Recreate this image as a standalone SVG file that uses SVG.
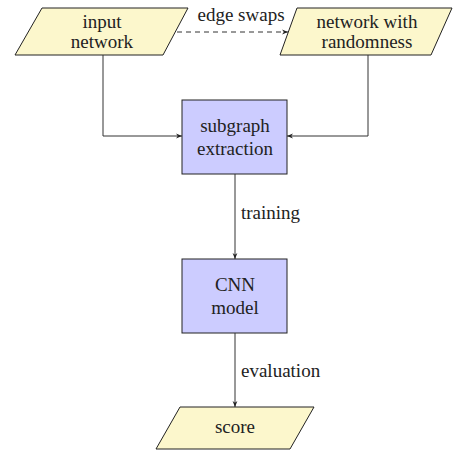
<svg xmlns="http://www.w3.org/2000/svg" width="453" height="452" viewBox="0 0 453 452">
<defs>
<marker id="ah" viewBox="0 0 10 10" refX="10" refY="5" markerWidth="6" markerHeight="6" markerUnits="userSpaceOnUse" orient="auto">
<path d="M0,1 L10,5 L0,9 L3,5 Z" fill="#222"/>
</marker>
<style>
text{font-family:"Liberation Serif","DejaVu Serif",serif;font-size:19px;fill:#222;text-anchor:middle}
text.lbl{text-anchor:start}
.io{fill:#FCF7CC;stroke:#222;stroke-width:1}
.proc{fill:#CCCCFF;stroke:#222;stroke-width:1}
.edge{fill:none;stroke:#333;stroke-width:1;marker-end:url(#ah)}
</style>
</defs>
<rect width="453" height="452" fill="#fff"/>
<g id="input">
<polygon class="io" points="42,8 188,8 163,55 15,55"/>
<text x="102" y="28">input</text>
<text x="102" y="48">network</text>
</g>
<g id="random">
<polygon class="io" points="297,8 452,8 431,55 280,55"/>
<text x="367" y="28">network with</text>
<text x="367" y="48">randomness</text>
</g>
<g id="subgraph">
<rect class="proc" x="182" y="100" width="105" height="74"/>
<text x="235" y="132">subgraph</text>
<text x="235" y="155">extraction</text>
</g>
<g id="cnn">
<rect class="proc" x="182" y="259" width="105" height="74"/>
<text x="235" y="291">CNN</text>
<text x="235" y="314">model</text>
</g>
<g id="score">
<polygon class="io" points="180,407 314,407 290,449 156,449"/>
<text x="235" y="433">score</text>
</g>
<g id="connectors">
<path class="edge" d="M177,32 L288,32" stroke-dasharray="5,4"/>
<path class="edge" d="M103,55 L103,136 L182,136"/>
<path class="edge" d="M368,55 L368,136 L287,136"/>
<path class="edge" d="M235,174 L235,259"/>
<path class="edge" d="M235,333 L235,407"/>
<text x="241" y="21">edge swaps</text>
<text class="lbl" x="241" y="219">training</text>
<text class="lbl" x="241" y="377">evaluation</text>
</g>
</svg>
